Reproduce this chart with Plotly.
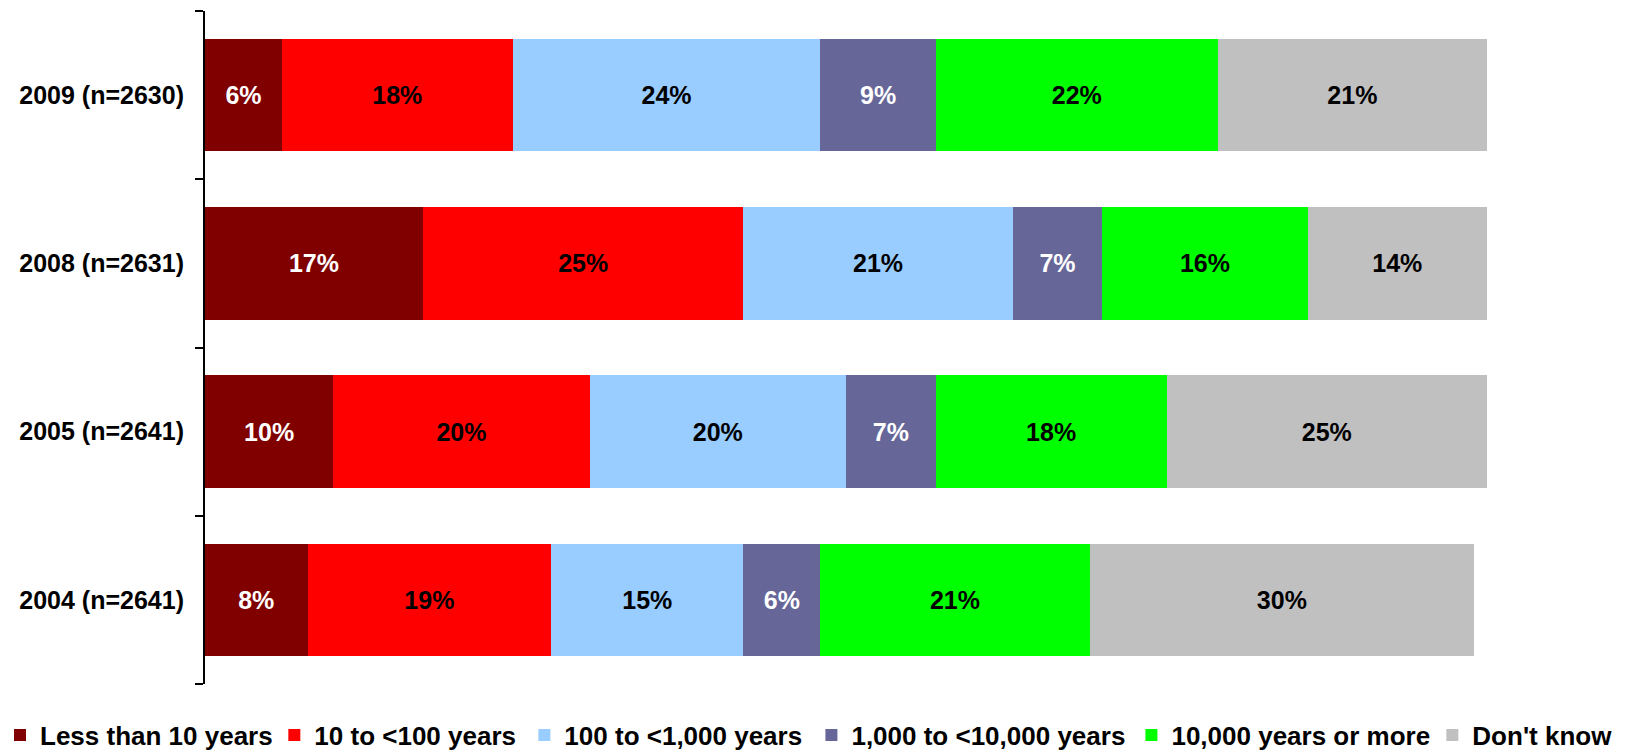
import plotly.graph_objects as go

years = ["2009 (n=2630)", "2008 (n=2631)", "2005 (n=2641)", "2004 (n=2641)"]
series = ["Less than 10 years", "10 to <100 years", "100 to <1,000 years",
          "1,000 to <10,000 years", "10,000 years or more", "Don't know"]
less_10 = [6, 17, 10, 8]
to_100 = [18, 25, 20, 19]
to_1000 = [24, 21, 20, 15]
to_10000 = [9, 7, 7, 6]
over_10000 = [22, 16, 18, 21]
dont_know = [21, 14, 25, 30]

values = [less_10, to_100, to_1000, to_10000, over_10000, dont_know]
colors = ["#800000", "#FF0000", "#99CCFF", "#666699", "#00FF00", "#C0C0C0"]
text_clr = ["white", "black", "black", "white", "black", "black"]

FONT = "Arial, Liberation Sans, sans-serif"

# one small legend per series so the row spreads across the full width like the original
leg_x = [0.0, 0.1682, 0.3215, 0.4975, 0.6937, 0.8782]
leg_ids = ["legend"] + [f"legend{i}" for i in range(2, 7)]

fig = go.Figure()
for i, (name, vals) in enumerate(zip(series, values)):
    fig.add_trace(go.Bar(
        name=name, y=years, x=vals, orientation="h",
        marker=dict(color=colors[i], line=dict(width=0)),
        text=[f"{v}%" for v in vals], textposition="inside",
        insidetextanchor="middle", textangle=0,
        textfont=dict(color=text_clr[i], size=25, family=FONT, weight=700),
        legend=leg_ids[i], showlegend=True,
        hovertemplate="%{y}<br>" + name + ": %{x}%<extra></extra>",
    ))

legends = {
    lid: dict(orientation="h", xref="container", yref="container",
              yanchor="middle", y=0.02, xanchor="left", x=lx,
              bgcolor="rgba(0,0,0,0)", font=dict(size=26, family=FONT, color="black", weight=700),
              itemclick=False, visible=True)
    for lid, lx in zip(leg_ids, leg_x)
}

fig.update_layout(
    width=1631, height=750, showlegend=True,
    barmode="stack", bargap=0.33,
    paper_bgcolor="white", plot_bgcolor="white",
    margin=dict(l=205, r=144, t=11, b=66, autoexpand=False),
    font=dict(family=FONT, color="black"),
    xaxis=dict(range=[0, 100], visible=False, fixedrange=True),
    yaxis=dict(categoryorder="array", categoryarray=years[::-1],
               tickson="boundaries", ticks="outside", ticklen=8, tickwidth=2, tickcolor="black",
               showline=True, linewidth=2, linecolor="black", showgrid=False,
               ticklabelstandoff=14,
               tickfont=dict(size=25, family=FONT, color="black", weight=700)),
    **legends,
)

fig.write_html("out.html", config={"displayModeBar": False},
               post_script="document.body.style.margin='0px';")
